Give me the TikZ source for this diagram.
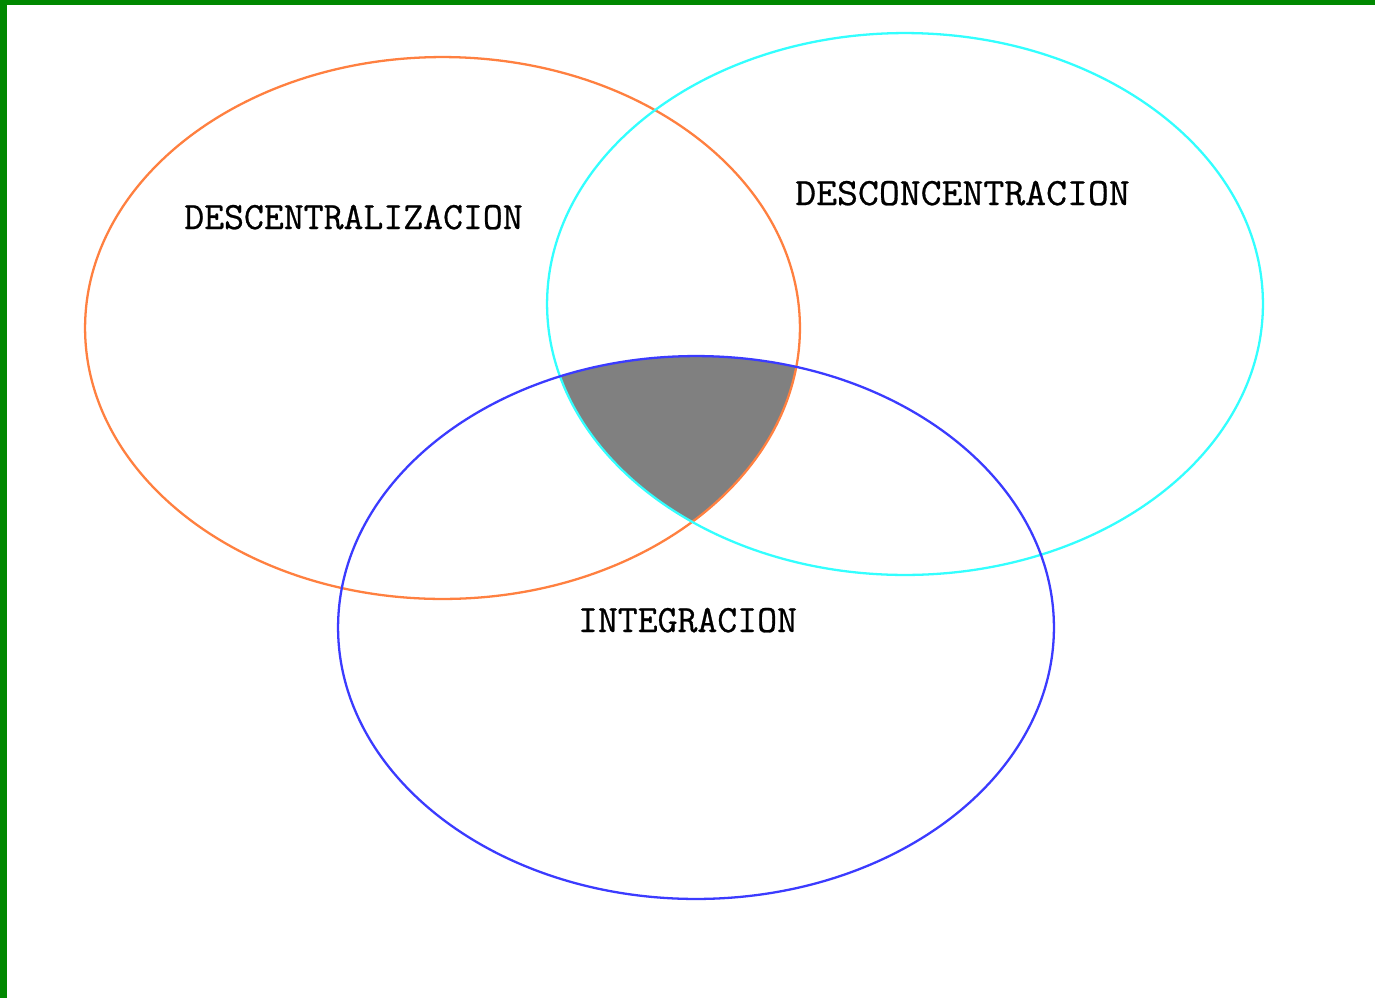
\documentclass[tikz,border=0pt]{standalone}
\usepackage{fontspec}
\newfontfamily\lblfont{Latin Modern Mono}[FakeBold=0.7]
\definecolor{frame}{HTML}{008800}
\definecolor{orng}{HTML}{FF8040}
\definecolor{cyn}{HTML}{33FFFF}
\definecolor{blu}{HTML}{3B3BFF}
\definecolor{core}{HTML}{808080}
\tikzset{
  ring/.style={line width=1.3pt},
  lbl/.style={font=\fontsize{22}{26}\selectfont\lblfont, anchor=base, inner sep=0pt},
}
\begin{document}
\begin{tikzpicture}[x=0.02cm,y=-0.02cm]
\useasboundingbox (0,0) rectangle (1375,998);
\fill[white] (0,0) rectangle (1375,998);
% green frame
\fill[frame] (0,0) rectangle (1375,5);
\fill[frame] (0,0) rectangle (7,998);
% shaded common region
\begin{scope}
  \clip (442.5,328) ellipse [x radius=7.15cm, y radius=5.42cm];
  \clip (905,304) ellipse [x radius=7.16cm, y radius=5.42cm];
  \fill[core] (696,627.5) ellipse [x radius=7.16cm, y radius=5.43cm];
\end{scope}
% ellipses
\draw[ring, orng] (442.5,328) ellipse [x radius=7.15cm, y radius=5.42cm];
\draw[ring, cyn] (905,304) ellipse [x radius=7.16cm, y radius=5.42cm];
\draw[ring, blu] (696,627.5) ellipse [x radius=7.16cm, y radius=5.43cm];
% labels
\node[lbl] (dec) at (353.5,229) {DESCENTRALIZACION};
\node[lbl, xscale=1.05] (des) at (962.5,205) {DESCONCENTRACION};
\node[lbl] (int) at (687.5,632) {INTEGRACION};
\end{tikzpicture}
\end{document}
